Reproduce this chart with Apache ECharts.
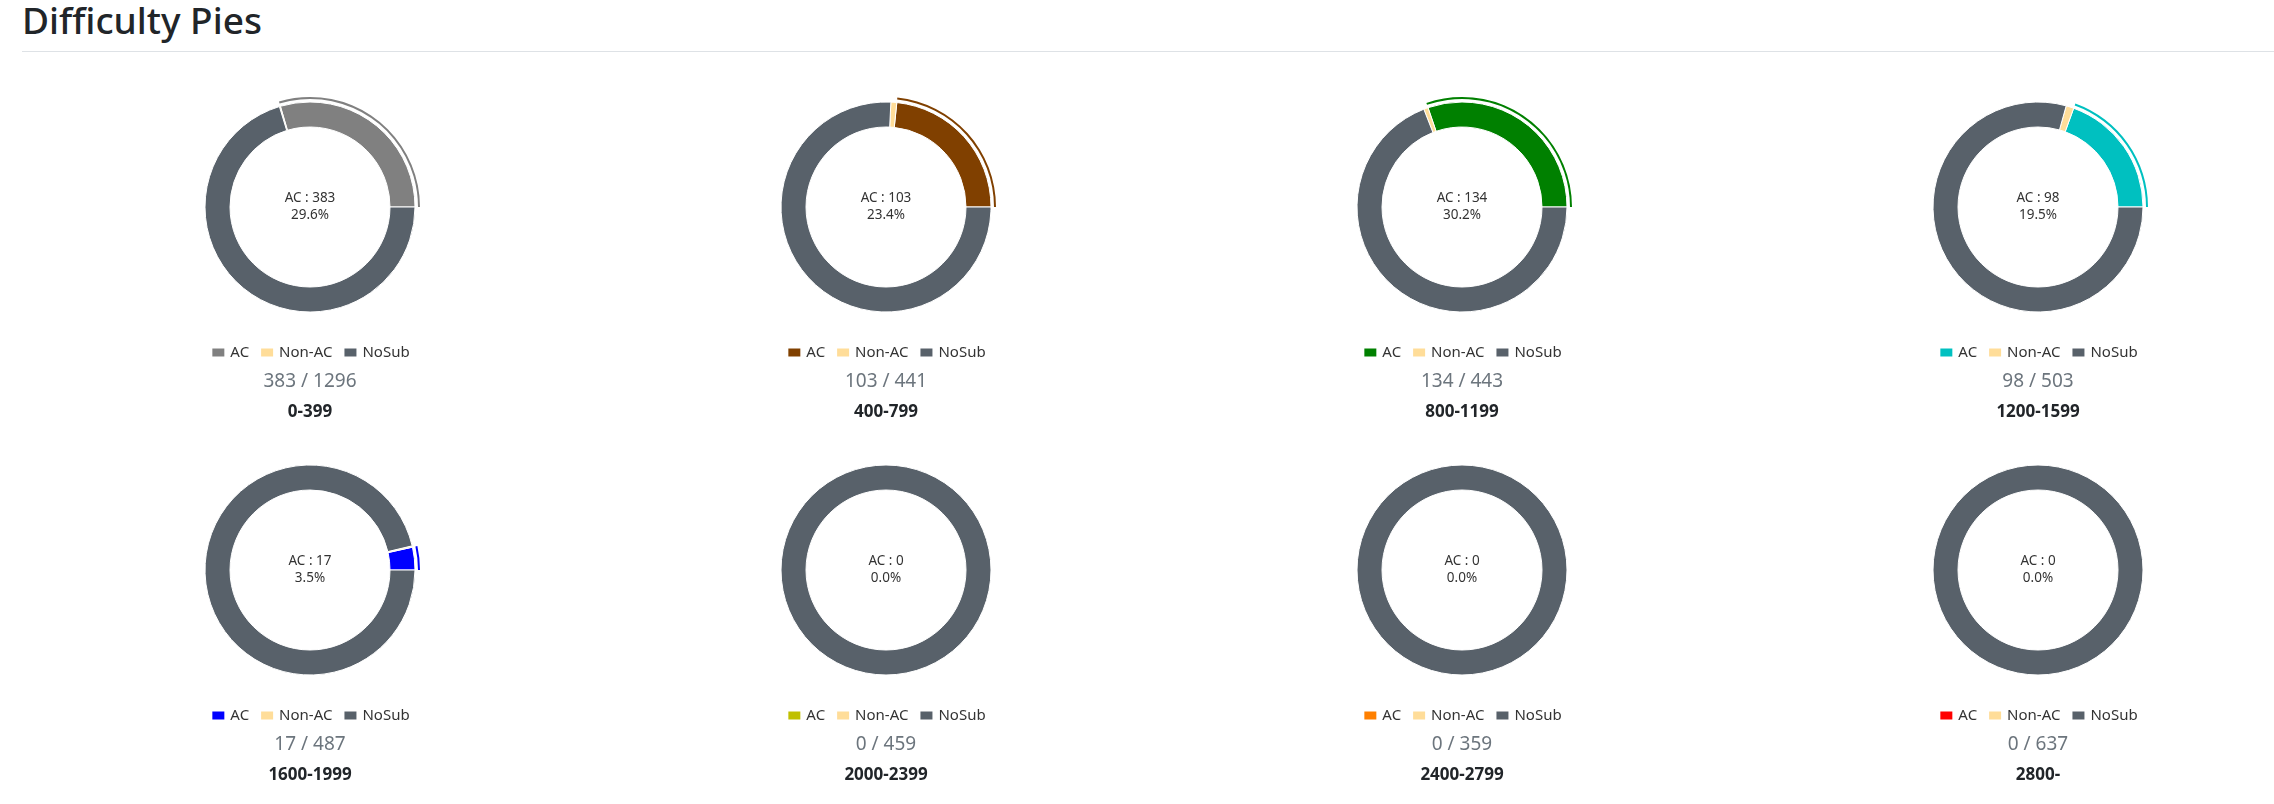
<!DOCTYPE html>
<html>
<head>
<meta charset="utf-8">
<script src="https://cdn.jsdelivr.net/npm/echarts@6/dist/echarts.min.js"></script>
<style>
  html, body {
    margin: 0;
    padding: 0;
    width: 2274px;
    height: 804px;
    overflow: hidden;
    background: #ffffff;
    font-family: "Noto Sans", "Open Sans", sans-serif;
  }
  #heading {
    position: absolute;
    left: 22px;
    top: -6px;
    margin: 0;
    font-size: 37px;
    font-weight: 500;
    color: #212529;
    line-height: 52px;
  }
  #rule {
    position: absolute;
    left: 22px;
    right: 0;
    top: 51px;
    height: 1px;
    background: #dee2e6;
  }
  .pieBox {
    position: absolute;
    width: 460px;
    height: 363px;
  }
</style>
</head>
<body>
<h2 id="heading">Difficulty Pies</h2>
<div id="rule"></div>
<div id="boxes"></div>

<script>
  // difficulty ranges and counts
  const ranges = ["0-399", "400-799", "800-1199", "1200-1599", "1600-1999", "2000-2399", "2400-2799", "2800-"];
  const acCounts = [383, 103, 134, 98, 17, 0, 0, 0];
  const nonAcCounts = [2, 4, 3, 6, 1, 0, 0, 0];
  const totals = [1296, 441, 443, 503, 487, 459, 359, 637];
  const acColors = ["#808080", "#804000", "#008000", "#00c0c0", "#0000ff", "#c0c000", "#ff8000", "#ff0000"];
  const legendNames = ["AC", "Non-AC", "NoSub"];
  const nonAcColor = "#ffdd99";
  const noSubColor = "#58616a";

  const fontName = "Noto Sans";
  const boxes = document.getElementById("boxes");

  for (let i = 0; i < ranges.length; i++) {
    let col = i % 4;
    let row = Math.floor(i / 4);
    let box = document.createElement("div");
    box.className = "pieBox";
    box.style.left = 80 + col * 576 + "px";
    box.style.top = 60 + row * 363 + "px";
    boxes.appendChild(box);

    let ac = acCounts[i];
    let nonAc = nonAcCounts[i];
    let noSub = totals[i] - ac - nonAc;
    let total = totals[i];

    let myChart = echarts.init(box);
    myChart.setOption({
      animation: false,
      title: [
        {
          text: ac + " / " + total,
          left: "center",
          top: 307,
          textStyle: {
            color: "#6c757d",
            fontFamily: fontName,
            fontSize: 19,
            fontWeight: "normal",
          },
        },
        {
          text: ranges[i],
          left: "center",
          top: 339,
          textStyle: {
            color: "#212529",
            fontFamily: fontName,
            fontSize: 17,
            fontWeight: "bold",
          },
        },
      ],
      legend: {
        data: legendNames,
        top: 280,
        left: "center",
        icon: "rect",
        itemWidth: 14,
        itemHeight: 10,
        itemGap: 10,
        selectedMode: false,
        textStyle: {
          color: "#333333",
          fontFamily: fontName,
          fontSize: 15,
        },
      },
      series: [
        {
          type: "pie",
          center: [230, 147],
          radius: [80, 105],
          startAngle: 0,
          clockwise: false,
          avoidLabelOverlap: false,
          emphasis: { scale: false },
          itemStyle: {
            borderColor: "#ffffff",
            borderWidth: 1,
          },
          label: { show: false },
          labelLine: { show: false },
          data: [
            {
              name: "AC",
              value: ac,
              itemStyle: { color: acColors[i] },
              label: {
                show: true,
                position: "center",
                color: "#333333",
                fontFamily: fontName,
                fontSize: 13.5,
                lineHeight: 17,
                padding: [4, 0, 0, 0],
                formatter: (p) => p.name + " : " + p.value + "\n" + ((p.value / total) * 100).toFixed(1) + "%",
              },
            },
            { name: "Non-AC", value: nonAc, itemStyle: { color: nonAcColor } },
            { name: "NoSub", value: noSub, itemStyle: { color: noSubColor } },
          ],
        },
        {
          // thin outer arc over the AC slice
          type: "pie",
          center: [230, 147],
          radius: [108, 110],
          startAngle: 0,
          clockwise: false,
          silent: true,
          emphasis: { scale: false },
          label: { show: false },
          labelLine: { show: false },
          data: [
            { name: "AC", value: ac, itemStyle: { color: acColors[i] } },
            { name: "Non-AC", value: nonAc, itemStyle: { color: "transparent" } },
            { name: "NoSub", value: noSub, itemStyle: { color: "transparent" } },
          ],
        },
      ],
    });
  }
</script>
</body>
</html>
